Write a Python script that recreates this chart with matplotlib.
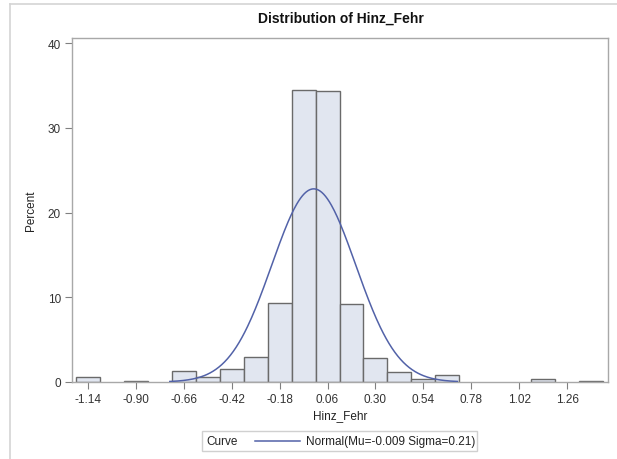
import numpy as np
import matplotlib
matplotlib.use("Agg")
import matplotlib.pyplot as plt
from matplotlib.lines import Line2D
from matplotlib.patches import Rectangle

plt.rcParams['font.family'] = ['Liberation Sans', 'DejaVu Sans']

bin_centers = [-1.14, -1.02, -0.90, -0.78, -0.66, -0.54, -0.42, -0.30, -0.18, -0.06,
               0.06, 0.18, 0.30, 0.42, 0.54, 0.66, 0.78, 0.90, 1.02, 1.14, 1.26, 1.38]
percents = [0.55, 0, 0.1, 0, 1.26, 0.55, 1.53, 2.9, 9.3, 34.45,
            34.3, 9.2, 2.83, 1.15, 0.32, 0.83, 0, 0, 0, 0.32, 0, 0.1]
bin_width = 0.12
x_ticks = [-1.14, -0.90, -0.66, -0.42, -0.18, 0.06, 0.30, 0.54, 0.78, 1.02, 1.26]
y_ticks = [0, 10, 20, 30, 40]
mu, sigma = -0.009, 0.21
curve_range = (-0.73, 0.71)

W, H = 617, 460
fig = plt.figure(figsize=(W / 100, H / 100), dpi=100)
L, R, T, B = 72, 608, 39, 383
ax = fig.add_axes([L / W, (H - B) / H, (R - L) / W, (B - T) / H])

bc = np.array(bin_centers)
pc = np.array(percents)
mask = pc > 0
ax.bar(bc[mask], pc[mask], width=bin_width, color='#E1E6F0', edgecolor='#6A6A6A',
       linewidth=1.0, zorder=2)

xs = np.linspace(curve_range[0], curve_range[1], 300)
ys = 100 * bin_width * np.exp(-0.5 * ((xs - mu) / sigma) ** 2) / (sigma * np.sqrt(2 * np.pi))
ax.plot(xs, ys, color='#5262A8', linewidth=1.1, zorder=3)

ax.set_xlim(-1.22, 1.465)
ax.set_ylim(0, 40.6)
ax.set_xticks(x_ticks)
ax.set_xticklabels([f"{t:.2f}" for t in x_ticks])
ax.set_yticks(y_ticks)
for s in ax.spines.values():
    s.set_color('#A8A8A8')
    s.set_linewidth(1.0)
ax.tick_params(axis='both', direction='out', length=5, width=0.8, color='#808080',
               labelsize=8.5, labelcolor='#333333', pad=3)
ax.set_xlabel('Hinz_Fehr', fontsize=8.5, color='#222222', labelpad=3)
ax.set_ylabel('Percent', fontsize=8.5, color='#222222', labelpad=8)

fig.text(341 / W, 1 - 19 / H, 'Distribution of Hinz_Fehr', ha='center', va='center',
         fontsize=10, fontweight='bold', color='#111111')

# outer border
fig.add_artist(Line2D([10 / W, 1.0], [1 - 5 / H, 1 - 5 / H], transform=fig.transFigure,
                      color='#D4D4D4', linewidth=1.2))
fig.add_artist(Line2D([10 / W, 10 / W], [1 - 5 / H, 0], transform=fig.transFigure,
                      color='#D4D4D4', linewidth=1.2))

# legend box
lx0, lx1, ly0, ly1 = 202, 477, 432, 452
fig.add_artist(Rectangle((lx0 / W, 1 - ly1 / H), (lx1 - lx0) / W, (ly1 - ly0) / H,
                         transform=fig.transFigure, facecolor='none',
                         edgecolor='#D0D0D0', linewidth=1.0))
ly = 1 - ((ly0 + ly1) / 2) / H
fig.text(206 / W, ly, 'Curve', ha='left', va='center', fontsize=8.5, color='#222222')
fig.add_artist(Line2D([255 / W, 300 / W], [ly, ly], transform=fig.transFigure,
                      color='#5262A8', linewidth=1.1))
fig.text(306 / W, ly, 'Normal(Mu=-0.009 Sigma=0.21)', ha='left', va='center',
         fontsize=8.5, color='#222222')

fig.savefig('out.png', dpi=100)
